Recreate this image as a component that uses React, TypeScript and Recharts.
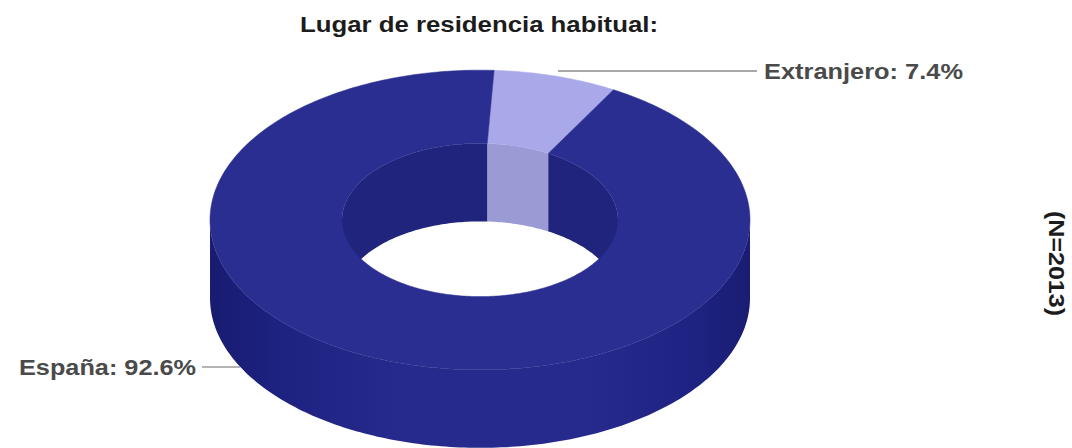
import { Pie, PieChart } from "recharts";

const categories = ["Extranjero", "España"];
const shares = [7.4, 92.6];
const topColors = ["#a9a9ea", "#2a2e90"];
const innerWallColors = ["#9a9ad4", "#20247c"];
const outerWallColors = ["url(#wallLight)", "url(#wallDark)"];

const data = categories.map((name, i) => ({
  name,
  value: shares[i],
  fill: topColors[i],
  innerWall: innerWallColors[i],
  outerWall: outerWallColors[i],
}));

// fake 3D: circles from the pie get squashed to ellipses, walls hang below
const TILT = 0.555;
const DEPTH = 78;

function point(cx: number, cy: number, r: number, deg: number) {
  const a = (deg * Math.PI) / 180;
  return [cx + r * Math.cos(a), cy - r * TILT * Math.sin(a)];
}

function sweep(start: number, end: number) {
  const out: number[] = [];
  const steps = Math.max(2, Math.ceil(Math.abs(end - start)));
  for (let i = 0; i <= steps; i++) out.push(start + ((end - start) * i) / steps);
  return out;
}

// contiguous runs of angles that face the wanted way
function runs(angles: number[], keep: (sin: number) => boolean) {
  const out: number[][] = [];
  let cur: number[] = [];
  angles.forEach((deg) => {
    if (keep(Math.sin((deg * Math.PI) / 180))) {
      cur.push(deg);
    } else if (cur.length) {
      out.push(cur);
      cur = [];
    }
  });
  if (cur.length) out.push(cur);
  return out;
}

function toPath(points: number[][]) {
  return "M" + points.map((p) => `${p[0].toFixed(2)},${p[1].toFixed(2)}`).join("L") + "Z";
}

function wallPath(cx: number, cy: number, r: number, angles: number[]) {
  const upper = angles.map((deg) => point(cx, cy, r, deg));
  const lower = angles.map((deg) => point(cx, cy + DEPTH, r, deg)).reverse();
  return toPath([...upper, ...lower]);
}

function DonutSlice(props: any) {
  const { cx, cy, innerRadius, outerRadius, startAngle, endAngle, fill, payload } = props;
  const angles = sweep(startAngle, endAngle);
  const top = [
    ...angles.map((deg) => point(cx, cy, outerRadius, deg)),
    ...[...angles].reverse().map((deg) => point(cx, cy, innerRadius, deg)),
  ];
  return (
    <g>
      {runs(angles, (s) => s >= 0).map((run, i) => (
        <path key={`in${i}`} d={wallPath(cx, cy, innerRadius, run)} fill={payload.innerWall} />
      ))}
      {runs(angles, (s) => s <= 0).map((run, i) => (
        <path key={`out${i}`} d={wallPath(cx, cy, outerRadius, run)} fill={payload.outerWall} />
      ))}
      <path d={toPath(top)} fill={fill} stroke={fill} strokeWidth={0.5} />
    </g>
  );
}

function SliceLabel(props: any) {
  const { name, value } = props;
  const text = `${name}: ${value}%`;
  if (name === "Extranjero") {
    return (
      <g>
        <line x1={558} y1={71} x2={757} y2={71} stroke="#a8a8a8" strokeWidth={2} />
        <text x={764} y={79} textLength={199} lengthAdjust="spacingAndGlyphs" fontFamily="Liberation Sans" fontWeight={700} fontSize={22} fill="#4a4a4a">
          {text}
        </text>
      </g>
    );
  }
  return (
    <g>
      <line x1={202} y1={367} x2={240} y2={367} stroke="#b4b4b4" strokeWidth={2} />
      <text x={19} y={375} textLength={177} lengthAdjust="spacingAndGlyphs" fontFamily="Liberation Sans" fontWeight={700} fontSize={22} fill="#4a4a4a">
        {text}
      </text>
    </g>
  );
}

export default function App() {
  return (
    <div style={{ position: "absolute", left: 0, top: 0, width: 1072, height: 448, background: "#fff" }}>
      <PieChart width={1072} height={448} margin={{ top: 0, right: 0, bottom: 0, left: 0 }}>
        <defs>
          <linearGradient id="wallDark" x1="0" y1="0" x2="1" y2="0">
            <stop offset="0" stopColor="#181c70" />
            <stop offset="0.12" stopColor="#1d2180" />
            <stop offset="0.35" stopColor="#262a8c" />
            <stop offset="0.7" stopColor="#262a8c" />
            <stop offset="0.9" stopColor="#1e2282" />
            <stop offset="1" stopColor="#191d72" />
          </linearGradient>
          <linearGradient id="wallLight" x1="0" y1="0" x2="1" y2="0">
            <stop offset="0" stopColor="#9a9ad4" />
            <stop offset="1" stopColor="#9a9ad4" />
          </linearGradient>
        </defs>
        <text x={300} y={32} textLength={358} lengthAdjust="spacingAndGlyphs" fontFamily="Liberation Sans" fontWeight={700} fontSize={22} fill="#1c1c1c">
          Lugar de residencia habitual:
        </text>
        <Pie
          data={data}
          dataKey="value"
          nameKey="name"
          cx={480}
          cy={220}
          innerRadius={138}
          outerRadius={270}
          startAngle={87}
          endAngle={-273}
          stroke="none"
          shape={DonutSlice}
          label={SliceLabel}
          labelLine={false}
          isAnimationActive={false}
        />
        <text
          transform="translate(1049,211) rotate(90)"
          textLength={105}
          lengthAdjust="spacingAndGlyphs"
          fontFamily="Liberation Sans"
          fontWeight={700}
          fontSize={22}
          fill="#1c1c1c"
        >
          (N=2013)
        </text>
      </PieChart>
    </div>
  );
}
